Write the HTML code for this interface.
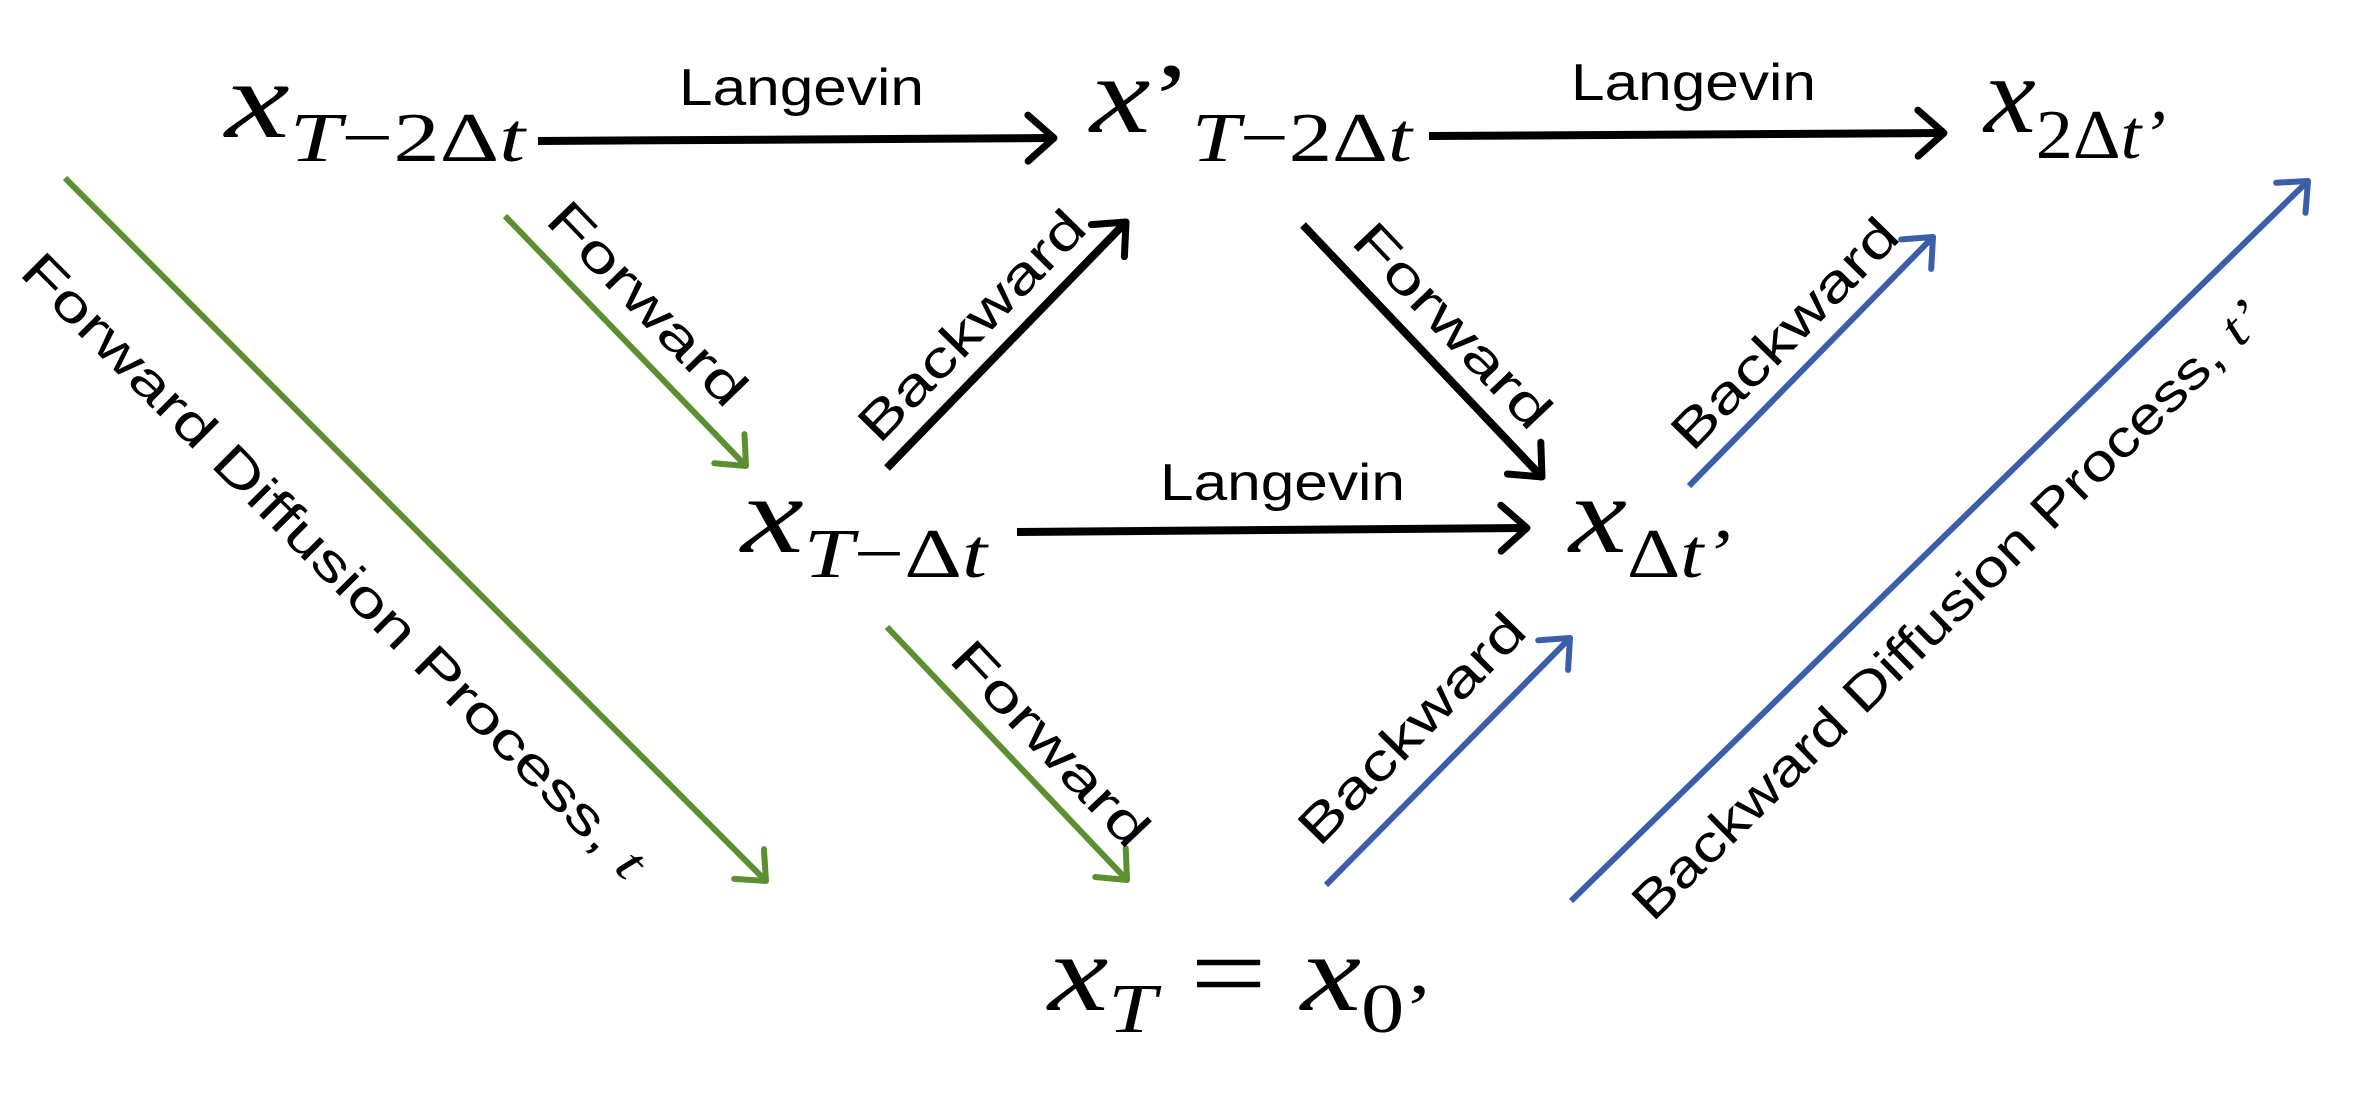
<!DOCTYPE html>
<html><head><meta charset="utf-8"><style>
html,body{margin:0;padding:0;background:#fff;}
svg{display:block;}
.lab{font-family:"Liberation Sans",sans-serif;font-size:52px;fill:#000;}
.m{font-family:"Liberation Serif",serif;font-style:italic;fill:#000;}
.u{font-style:normal;}
</style></head><body>
<svg width="2369" height="1100" viewBox="0 0 2369 1100" xmlns="http://www.w3.org/2000/svg">
<defs>
<marker id="hk" markerUnits="userSpaceOnUse" markerWidth="40" markerHeight="60" refX="30" refY="25" orient="auto" viewBox="0 0 40 50"><path d="M4,2 L30,25 L4,48" fill="none" stroke="#000" stroke-width="7" stroke-linecap="round" stroke-linejoin="round"/></marker>
<marker id="hg" markerUnits="userSpaceOnUse" markerWidth="40" markerHeight="60" refX="30" refY="25" orient="auto" viewBox="0 0 40 50"><path d="M6,4 L30,25 L6,46" fill="none" stroke="#5b8f32" stroke-width="6" stroke-linecap="round" stroke-linejoin="round"/></marker>
<marker id="hb" markerUnits="userSpaceOnUse" markerWidth="40" markerHeight="60" refX="30" refY="25" orient="auto" viewBox="0 0 40 50"><path d="M6,4 L30,25 L6,46" fill="none" stroke="#3a5ea8" stroke-width="6" stroke-linecap="round" stroke-linejoin="round"/></marker>
</defs>

<g stroke="#000" stroke-width="8" fill="none">
<line x1="538" y1="141" x2="1054" y2="138" marker-end="url(#hk)"/>
<line x1="1429" y1="136" x2="1944" y2="133" marker-end="url(#hk)"/>
<line x1="1017" y1="532" x2="1527" y2="528" marker-end="url(#hk)"/>
<line x1="887" y1="468" x2="1126" y2="222" marker-end="url(#hk)"/>
<line x1="1303" y1="225" x2="1542" y2="477" marker-end="url(#hk)"/>
</g>
<g stroke="#5b8f32" stroke-width="6" fill="none">
<line x1="65" y1="178" x2="766" y2="881" marker-end="url(#hg)"/>
<line x1="505" y1="216" x2="746" y2="466" marker-end="url(#hg)"/>
<line x1="887" y1="627" x2="1127" y2="880" marker-end="url(#hg)"/>
</g>
<g stroke="#3a5ea8" stroke-width="6" fill="none">
<line x1="1689" y1="486" x2="1933" y2="237" marker-end="url(#hb)"/>
<line x1="1571" y1="901" x2="2308" y2="181" marker-end="url(#hb)"/>
<line x1="1326" y1="885" x2="1570" y2="638" marker-end="url(#hb)"/>
</g>

<text class="lab" x="679" y="105" textLength="245" lengthAdjust="spacingAndGlyphs">Langevin</text>
<text class="lab" x="1571" y="100" textLength="245" lengthAdjust="spacingAndGlyphs">Langevin</text>
<text class="lab" x="1160" y="500" textLength="245" lengthAdjust="spacingAndGlyphs">Langevin</text>

<text class="lab" text-anchor="middle" dominant-baseline="central" transform="translate(647,304) rotate(46)" textLength="262" lengthAdjust="spacingAndGlyphs">Forward</text>
<text class="lab" text-anchor="middle" dominant-baseline="central" transform="translate(1452,326) rotate(46.5)" textLength="262" lengthAdjust="spacingAndGlyphs">Forward</text>
<text class="lab" text-anchor="middle" dominant-baseline="central" transform="translate(1050,744) rotate(46.5)" textLength="262" lengthAdjust="spacingAndGlyphs">Forward</text>
<text class="lab" text-anchor="middle" dominant-baseline="central" transform="translate(972,326) rotate(-45.6)" textLength="300" lengthAdjust="spacingAndGlyphs">Backward</text>
<text class="lab" text-anchor="middle" dominant-baseline="central" transform="translate(1785,334) rotate(-45.6)" textLength="300" lengthAdjust="spacingAndGlyphs">Backward</text>
<text class="lab" text-anchor="middle" dominant-baseline="central" transform="translate(1412,729) rotate(-45.6)" textLength="300" lengthAdjust="spacingAndGlyphs">Backward</text>
<text class="lab" text-anchor="middle" dominant-baseline="central" transform="translate(334,566) rotate(45)" textLength="860" lengthAdjust="spacingAndGlyphs">Forward Diffusion Process, <tspan font-family="Liberation Serif" font-style="italic">t</tspan></text>
<text class="lab" text-anchor="middle" dominant-baseline="central" transform="translate(1948,610) rotate(-44.4)" textLength="860" lengthAdjust="spacingAndGlyphs">Backward Diffusion Process, <tspan font-family="Liberation Serif" font-style="italic">t’</tspan></text>

<text class="m" x="225" y="137" font-size="110" textLength="300" lengthAdjust="spacingAndGlyphs">x<tspan font-size="70" dy="24">T</tspan><tspan class="u" font-size="70">−2Δ</tspan><tspan font-size="70">t</tspan></text>
<text class="m" x="1090" y="132" font-size="110" textLength="322" lengthAdjust="spacingAndGlyphs">x<tspan class="u" font-size="100">’</tspan><tspan font-size="70" dy="29">T</tspan><tspan class="u" font-size="70">−2Δ</tspan><tspan font-size="70">t</tspan></text>
<text class="m" x="1984" y="132" font-size="110" textLength="182" lengthAdjust="spacingAndGlyphs">x<tspan class="u" font-size="70" dy="26">2Δ</tspan><tspan font-size="70">t’</tspan></text>
<text class="m" x="741" y="552" font-size="110" textLength="246" lengthAdjust="spacingAndGlyphs">x<tspan font-size="70" dy="25">T</tspan><tspan class="u" font-size="70">−Δ</tspan><tspan font-size="70">t</tspan></text>
<text class="m" x="1569" y="552" font-size="110" textLength="162" lengthAdjust="spacingAndGlyphs">x<tspan class="u" font-size="70" dy="25">Δ</tspan><tspan font-size="70">t’</tspan></text>
<text class="m" x="1048" y="1010" font-size="110" textLength="385" lengthAdjust="spacingAndGlyphs">x<tspan font-size="70" dy="22">T</tspan><tspan class="u" dy="-22"> = </tspan>x<tspan font-size="70" class="u" dy="22">0’</tspan></text>
</svg>
</body></html>
